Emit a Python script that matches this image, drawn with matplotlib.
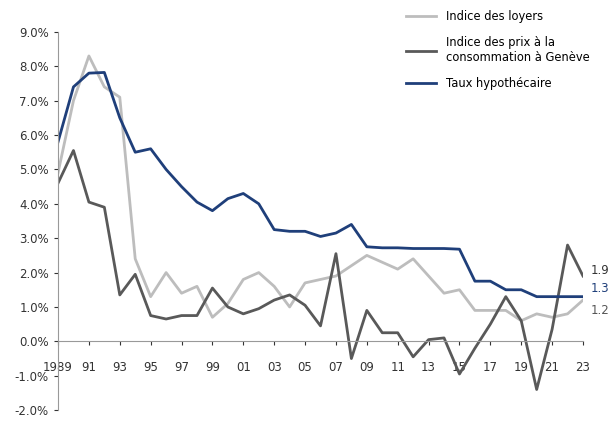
import matplotlib.pyplot as plt
from matplotlib.ticker import FuncFormatter

years = list(range(1989, 2024))
loyers = [4.9, 7.0, 8.3, 7.4, 7.1, 2.4, 1.3, 2.0, 1.4, 1.6, 0.7, 1.1, 1.8, 2.0, 1.6, 1.0, 1.7,
          1.8, 1.9, 2.2, 2.5, 2.3, 2.1, 2.4, 1.9, 1.4, 1.5, 0.9, 0.9, 0.9, 0.6, 0.8, 0.7, 0.8, 1.2]
ipc = [4.6, 5.55, 4.05, 3.9, 1.35, 1.95, 0.75, 0.65, 0.75, 0.75, 1.55, 1.0, 0.8, 0.95, 1.2, 1.35,
       1.05, 0.45, 2.55, -0.5, 0.9, 0.25, 0.25, -0.45, 0.05, 0.1, -0.95, -0.2, 0.5, 1.3, 0.6,
       -1.4, 0.35, 2.8, 1.9]
taux = [5.8, 7.4, 7.8, 7.82, 6.5, 5.5, 5.6, 5.0, 4.5, 4.05, 3.8, 4.15, 4.3, 4.0, 3.25, 3.2, 3.2,
        3.05, 3.15, 3.4, 2.75, 2.72, 2.72, 2.7, 2.7, 2.7, 2.68, 1.75, 1.75, 1.5, 1.5, 1.3, 1.3,
        1.3, 1.3]
tick_years = list(range(1989, 2024, 2))
tick_labels = ["1989"] + [f"{y % 100:02d}" for y in tick_years[1:]]

c_loy, c_ipc, c_taux = "#bdbdbd", "#595959", "#1f3f7a"

fig = plt.figure(figsize=(6.14, 4.25), dpi=100)
ax = fig.add_axes([0.0945, 0.035, 0.855, 0.89])
ax.plot(years, loyers, color=c_loy, lw=2.0, label="Indice des loyers")
ax.plot(years, ipc, color=c_ipc, lw=2.0, label="Indice des prix à la\nconsommation à Genève")
ax.plot(years, taux, color=c_taux, lw=2.0, label="Taux hypothécaire")

ax.set_ylim(-2, 9)
ax.set_xlim(1989, 2023)
ax.set_yticks([i for i in range(-2, 10)])
ax.yaxis.set_major_formatter(FuncFormatter(lambda v, p: f"{v:.1f}%"))
ax.set_xticks(tick_years)
ax.set_xticklabels(tick_labels)
for s in ("top", "right"):
    ax.spines[s].set_visible(False)
ax.spines["bottom"].set_position(("data", 0))
for s in ("left", "bottom"):
    ax.spines[s].set_color("#999999")
ax.tick_params(labelsize=8.5, colors="#333333", length=3)
ax.tick_params(axis="x", pad=11)

ax.text(2023.5, ipc[-1] + 0.15, "1.9", fontsize=8.5, color="#333333", va="center")
ax.text(2023.5, taux[-1] + 0.25, "1.3", fontsize=8.5, color=c_taux, va="center")
ax.text(2023.5, loyers[-1] - 0.3, "1.2", fontsize=8.5, color="#555555", va="center")

fig.legend(loc="upper left", bbox_to_anchor=(0.645, 1.0), frameon=False, fontsize=8.3,
           handlelength=2.6, labelspacing=1.1)
fig.savefig("out.png", dpi=100)
